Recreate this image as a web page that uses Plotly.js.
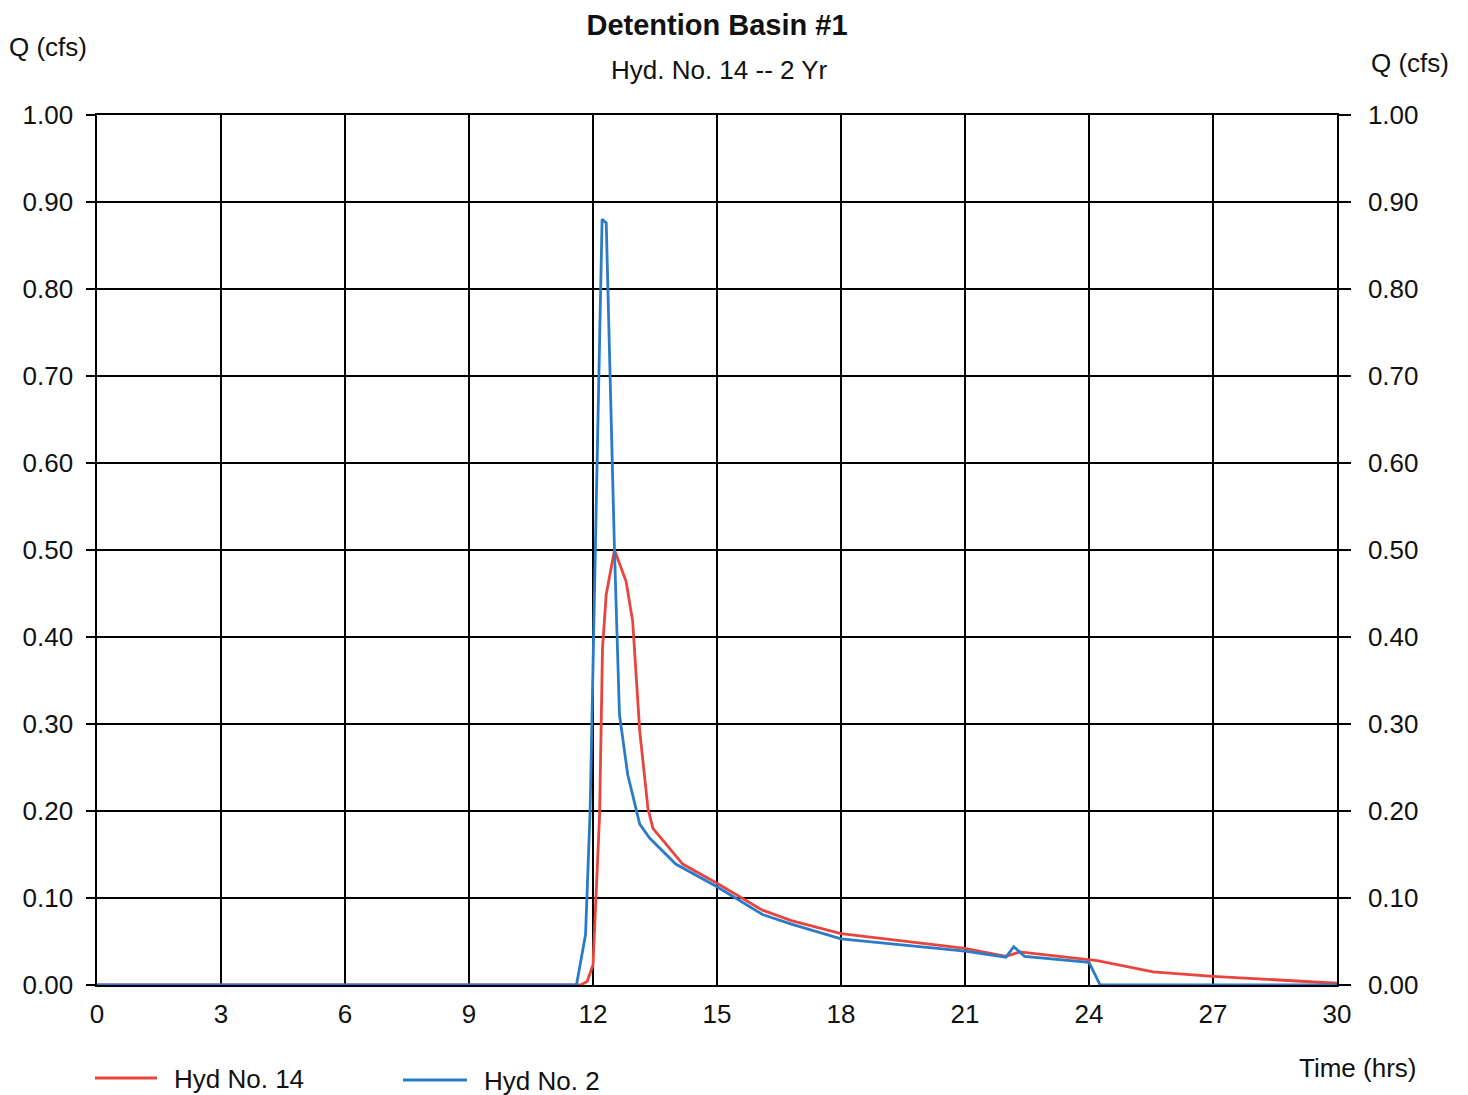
<!DOCTYPE html>
<html>
<head>
<meta charset="utf-8">
<script src="https://cdn.plot.ly/plotly-3.0.1.min.js"></script>
<style>html,body{margin:0;padding:0;background:#fff;}#chart{width:1468px;height:1095px;}</style>
</head>
<body>
<div id="chart"></div>
<script>
// Hyd No. 14 (red)
const hyd14Time = [0, 6, 11.7, 11.86, 12.0, 12.16, 12.23, 12.32, 12.52, 12.8, 12.96, 13.13, 13.33, 13.45, 14.17, 15.0, 15.5, 16.1, 16.8, 18.0, 21.0, 21.99, 22.32, 24.0, 24.2, 25.55, 27.0, 30.0];
const hyd14Q    = [0.0, 0.0, 0.0, 0.004, 0.023, 0.196, 0.387, 0.449, 0.50, 0.464, 0.418, 0.292, 0.203, 0.180, 0.139, 0.117, 0.103, 0.086, 0.074, 0.059, 0.042, 0.033, 0.038, 0.029, 0.028, 0.015, 0.010, 0.002];

// Hyd No. 2 (blue)
const hyd2Time = [0, 6, 11.6, 11.82, 11.93, 12.08, 12.22, 12.32, 12.42, 12.52, 12.64, 12.84, 13.13, 13.37, 14.0, 15.0, 16.1, 16.8, 18.0, 21.0, 21.99, 22.18, 22.44, 24.0, 24.27, 25.0, 30.0];
const hyd2Q    = [0.0, 0.0, 0.0, 0.058, 0.20, 0.556, 0.88, 0.876, 0.69, 0.50, 0.311, 0.242, 0.185, 0.169, 0.139, 0.113, 0.081, 0.070, 0.053, 0.039, 0.032, 0.044, 0.033, 0.026, 0.0, 0.0, 0.0];

const seriesNames = ['Hyd No. 14', 'Hyd No. 2'];
const xTicks = [0, 3, 6, 9, 12, 15, 18, 21, 24, 27, 30];
const yTicks = [0, 0.1, 0.2, 0.3, 0.4, 0.5, 0.6, 0.7, 0.8, 0.9, 1.0];

const RED = '#e8453f', BLUE = '#2a7bc8';
const F = 'Liberation Sans, Arial, sans-serif';

const traces = [
  {x: hyd14Time, y: hyd14Q, name: seriesNames[0], mode: 'lines', line: {color: RED, width: 2.8}, showlegend: false},
  {x: hyd2Time, y: hyd2Q, name: seriesNames[1], mode: 'lines', line: {color: BLUE, width: 2.8}, showlegend: false}
];

const axisCommon = {
  showgrid: true, gridcolor: '#000', gridwidth: 1.7,
  zeroline: false, showline: true, linecolor: '#000', linewidth: 1.7,
  tickfont: {family: F, size: 26, color: '#111'}
};

const layout = {
  width: 1468, height: 1095,
  margin: {l: 97, r: 131, t: 115, b: 110},
  paper_bgcolor: '#fff', plot_bgcolor: '#fff',
  font: {family: F, color: '#111'},
  title: {text: '<b>Detention Basin #1</b>', font: {family: F, size: 29, color: '#111'},
          xref: 'paper', x: 0.5, xanchor: 'center', yref: 'container', y: 1 - 25/1095, yanchor: 'middle'},
  xaxis: Object.assign({}, axisCommon, {
    range: [0, 30], tickvals: xTicks, ticktext: xTicks.map(String),
    ticks: '', ticklabelstandoff: 5, mirror: true
  }),
  yaxis: Object.assign({}, axisCommon, {
    range: [0, 1.0], tickvals: yTicks, tickformat: '.2f',
    ticks: 'outside', ticklen: 9, tickcolor: '#000', tickwidth: 1.7, ticklabelstandoff: 8
  }),
  yaxis2: Object.assign({}, axisCommon, {
    range: [0, 1.0], tickvals: yTicks, tickformat: '.2f', overlaying: 'y', side: 'right',
    showgrid: false, ticks: 'outside', ticklen: 12, tickcolor: '#000', tickwidth: 1.7, ticklabelstandoff: 12
  }),
  showlegend: false,
  annotations: [
    {text: 'Hyd. No. 14 -- 2 Yr', xref: 'paper', yref: 'paper', x: 0.5024, y: (985-70)/870, showarrow: false,
     xanchor: 'center', yanchor: 'middle', font: {family: F, size: 26, color: '#111'}},
    {text: 'Q (cfs)', xref: 'paper', yref: 'paper', x: (48-97)/1240, y: (985-47)/870, showarrow: false,
     xanchor: 'center', yanchor: 'middle', font: {family: F, size: 26, color: '#111'}},
    {text: 'Q (cfs)', xref: 'paper', yref: 'paper', x: (1410-97)/1240, y: (985-63)/870, showarrow: false,
     xanchor: 'center', yanchor: 'middle', font: {family: F, size: 26, color: '#111'}},
    {text: 'Time (hrs)', xref: 'paper', yref: 'paper', x: (1357-97)/1240, y: (985-1068)/870, showarrow: false,
     xanchor: 'center', yanchor: 'middle', font: {family: F, size: 26, color: '#111'}},
    {text: seriesNames[0], xref: 'paper', yref: 'paper', x: (172-97)/1240, y: (985-1079)/870, showarrow: false,
     xanchor: 'left', yanchor: 'middle', font: {family: F, size: 26, color: '#111'}},
    {text: seriesNames[1], xref: 'paper', yref: 'paper', x: (482-97)/1240, y: (985-1081)/870, showarrow: false,
     xanchor: 'left', yanchor: 'middle', font: {family: F, size: 26, color: '#111'}}
  ],
  shapes: [
    {type: 'line', xref: 'paper', yref: 'paper', x0: (95-97)/1240, x1: (157-97)/1240, y0: (985-1078)/870, y1: (985-1078)/870,
     line: {color: RED, width: 2.8}},
    {type: 'line', xref: 'paper', yref: 'paper', x0: (403-97)/1240, x1: (467-97)/1240, y0: (985-1080)/870, y1: (985-1080)/870,
     line: {color: BLUE, width: 2.8}}
  ]
};

// invisible helper trace so the right axis is drawn
traces.push({x: [0], y: [0], yaxis: 'y2', mode: 'lines', hoverinfo: 'skip', showlegend: false, line: {width: 0}, opacity: 0});

Plotly.newPlot('chart', traces, layout, {displayModeBar: false, staticPlot: true});
</script>
</body>
</html>
